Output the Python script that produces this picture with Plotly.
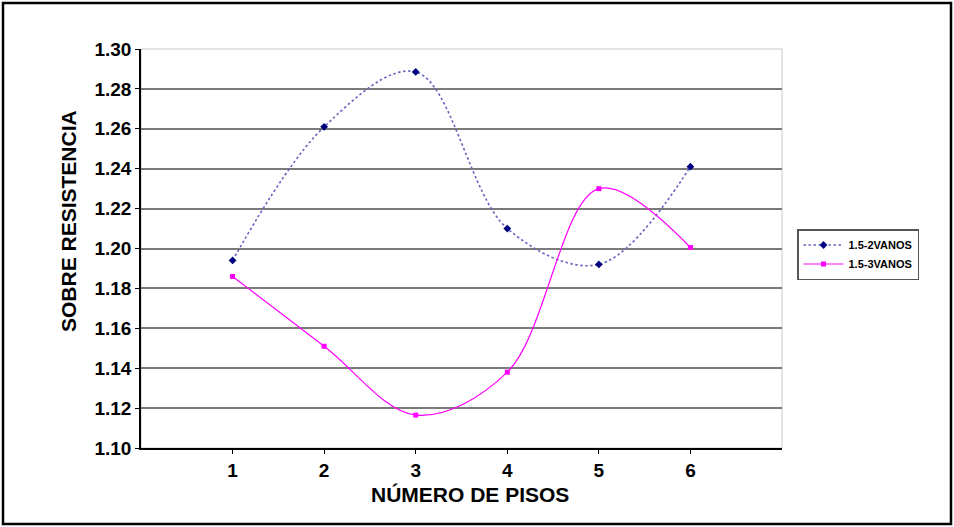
import plotly.graph_objects as go

pisos = [1, 2, 3, 4, 5, 6]
vanos_2 = [1.194, 1.261, 1.2885, 1.210, 1.192, 1.241]
vanos_3 = [1.186, 1.151, 1.1165, 1.138, 1.230, 1.2005]
y_ticks = [1.10, 1.12, 1.14, 1.16, 1.18, 1.20, 1.22, 1.24, 1.26, 1.28, 1.30]

W, H = 954, 527
L, R, T, B = 141, 172, 49, 79
pw, ph = W - L - R, H - T - B

FONT = "Liberation Sans, Arial, sans-serif"


def px_x(p):
    return (p - L) / pw


def px_y(p):
    return (H - B - p) / ph


fig = go.Figure()
fig.add_trace(go.Scatter(
    x=pisos, y=vanos_2, name="1.5-2VANOS", mode="lines+markers",
    line=dict(color="#6464c0", width=1.6, dash="2.5px,2.5px", shape="spline", smoothing=1.0),
    marker=dict(symbol="diamond", size=6, color="#000080"),
))
fig.add_trace(go.Scatter(
    x=pisos, y=vanos_3, name="1.5-3VANOS", mode="lines+markers",
    line=dict(color="#ff00ff", width=1.2, shape="spline", smoothing=1.0),
    marker=dict(symbol="square", size=5, color="#ff00ff"),
))

# outer frame around the whole figure
fig.add_shape(type="rect", xref="paper", yref="paper",
              x0=px_x(3), x1=px_x(W - 3), y0=px_y(H - 3), y1=px_y(3),
              line=dict(color="black", width=2.5), layer="below")
# plot-area border
fig.add_shape(type="rect", xref="paper", yref="paper", x0=0, x1=1, y0=0, y1=1,
              line=dict(color="#c8c8c8", width=1), layer="below")

# axis titles
fig.add_annotation(text="SOBRE RESISTENCIA", xref="paper", yref="paper",
                   x=px_x(68), y=px_y(221), textangle=-90, showarrow=False,
                   xanchor="center", yanchor="middle",
                   font=dict(size=21, family=FONT, color="black", weight="bold"))
fig.add_annotation(text="NÚMERO DE PISOS", xref="paper", yref="paper",
                   x=px_x(470), y=px_y(494), showarrow=False,
                   xanchor="center", yanchor="middle",
                   font=dict(size=21, family=FONT, color="black", weight="bold"))

fig.update_layout(
    width=W, height=H,
    margin=dict(l=L, r=R, t=T, b=B),
    paper_bgcolor="white", plot_bgcolor="white",
    font=dict(family=FONT, color="black"),
    xaxis=dict(
        range=[0, 7], tickmode="array", tickvals=pisos, ticktext=[str(p) for p in pisos],
        showgrid=False, zeroline=False,
        showline=True, linecolor="black", linewidth=1.5,
        ticks="outside", ticklen=4, tickcolor="black",
        tickfont=dict(size=19, family=FONT, weight="bold"),
    ),
    yaxis=dict(
        range=[1.10, 1.30], tickmode="array", tickvals=y_ticks,
        ticktext=[f"{v:.2f}" for v in y_ticks],
        showgrid=True, gridcolor="#7a7a7a", gridwidth=2, zeroline=False,
        showline=True, linecolor="black", linewidth=1.5,
        ticks="outside", ticklen=4, tickcolor="black",
        tickfont=dict(size=19, family=FONT, weight="bold"),
    ),
    legend=dict(
        x=px_x(797), y=px_y(229), xanchor="left", yanchor="top",
        bordercolor="#555555", borderwidth=1.5, bgcolor="white",
        font=dict(size=11, family=FONT, weight="bold"),
        tracegroupgap=0, itemwidth=40,
    ),
    showlegend=True,
)

fig.write_html("out.html")
